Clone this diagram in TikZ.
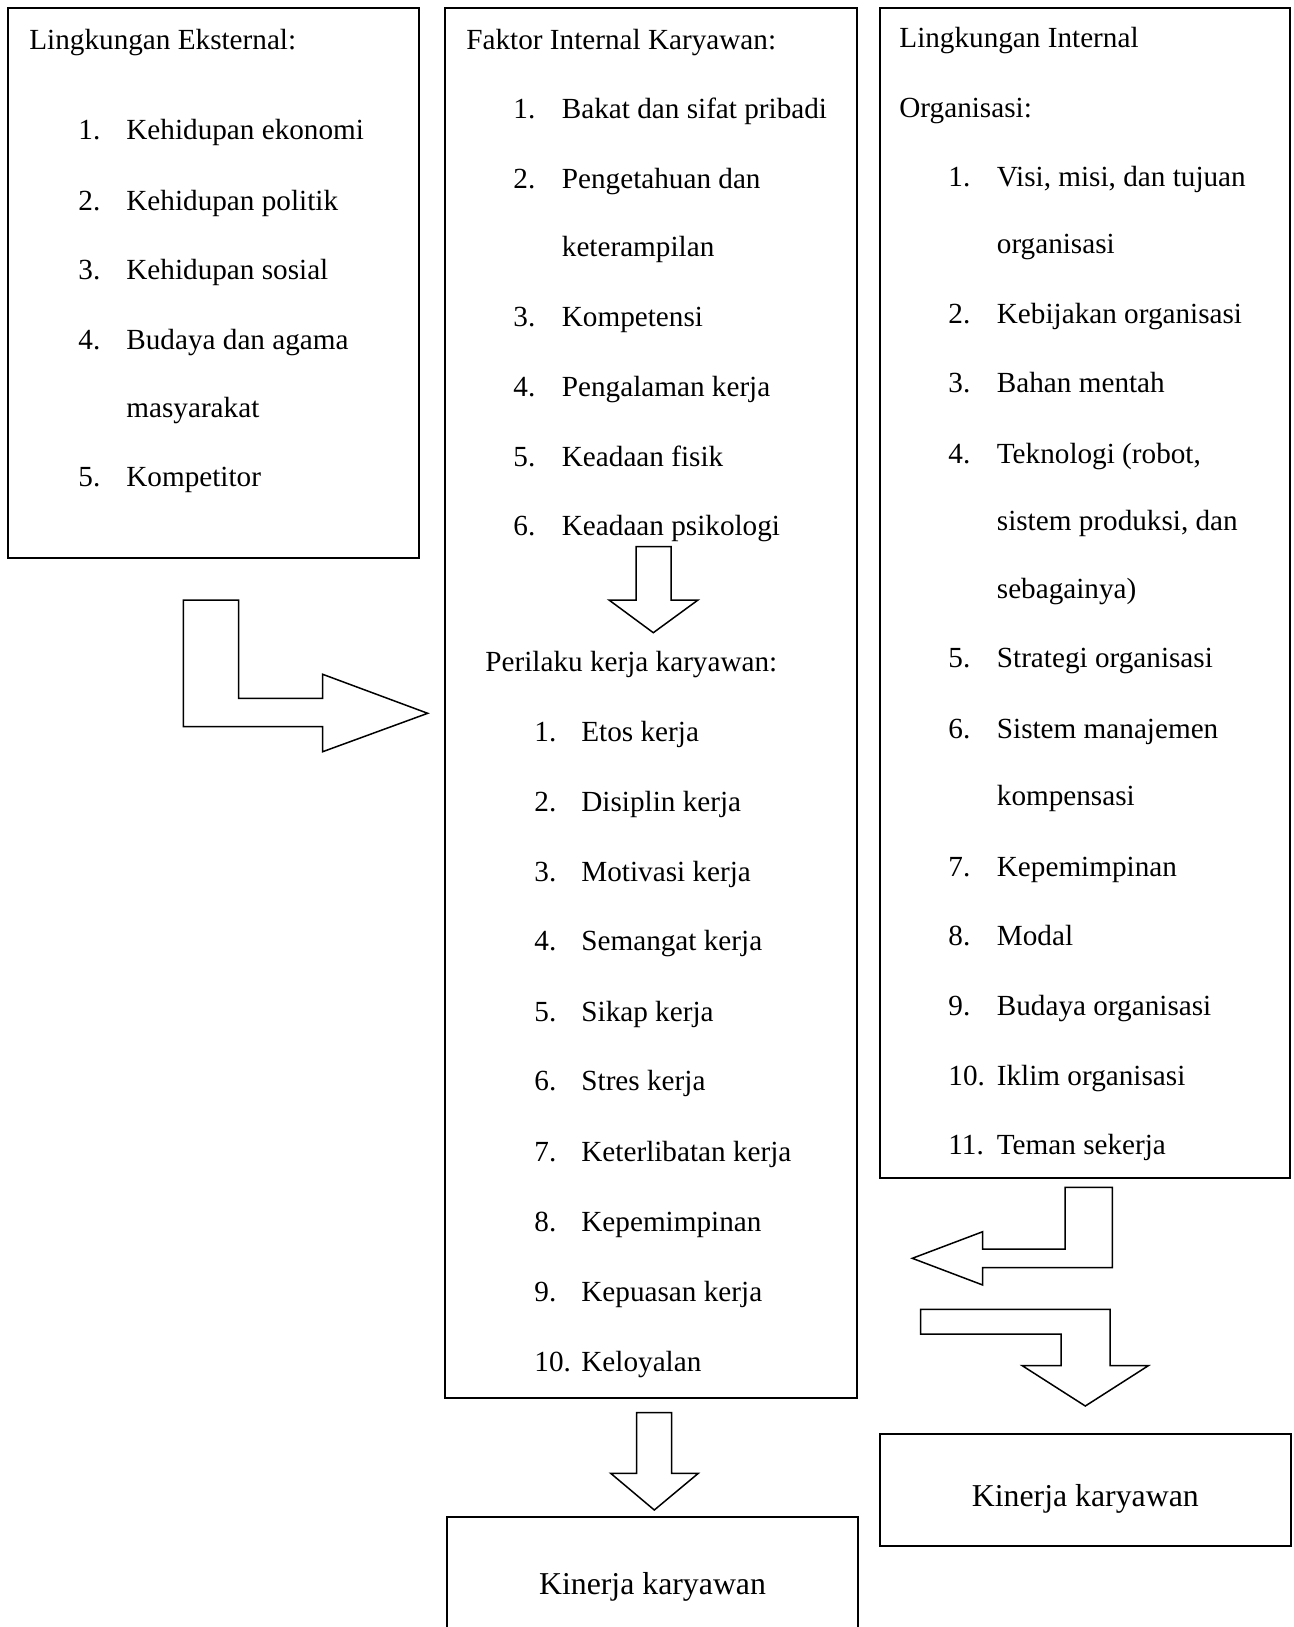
\documentclass[tikz,border=0pt]{standalone}
\usepackage{fontspec}
\setmainfont{Liberation Serif}
\usepackage{tikz}

\begin{document}
\begin{tikzpicture}[x=0.5pt,y=-0.5pt,
	box/.style={draw, line width=1pt, inner sep=0pt},
	txt/.style={anchor=base west, inner sep=0pt, font=\fontsize{14.6}{17}\selectfont},
	kintxt/.style={anchor=base, inner sep=0pt, font=\fontsize{15.9}{19}\selectfont},
	barrow/.style={draw, line width=0.75pt, line join=miter, fill=white}]
			\useasboundingbox (0,0) rectangle (1294,1627);
			\clip (0,0) rectangle (1294,1627);
			% Boxes
			\node[box, minimum width=205.4pt, minimum height=274.9pt] (ekst) at (213.7,283.2) {};
			\node[box, minimum width=206pt, minimum height=694.6pt] (kary) at (651,702.9) {};
			\node[box, minimum width=205pt, minimum height=584.9pt] (orgn) at (1085,593.2) {};
			\node[box, minimum width=205.5pt, minimum height=71.5pt] (kinA) at (652.5,1588.5) {};
			\node[box, minimum width=205.8pt, minimum height=56.3pt] (kinB) at (1085.3,1489.8) {};
			
			% Lingkungan eksternal
			\node[txt] (ekstH) at (29,50) {Lingkungan Eksternal:};
			\node[txt] (e1n) at (78,140) {1.};
			\node[txt] (e1) at (126,140) {Kehidupan ekonomi};
			\node[txt] (e2n) at (78,210) {2.};
			\node[txt] (e2) at (126,210) {Kehidupan politik};
			\node[txt] (e3n) at (78,279) {3.};
			\node[txt] (e3) at (126,279) {Kehidupan sosial};
			\node[txt] (e4n) at (78,349) {4.};
			\node[txt] (e4) at (126,349) {Budaya dan agama};
			\node[txt] (e4b) at (126,417) {masyarakat};
			\node[txt] (e5n) at (78,486) {5.};
			\node[txt] (e5) at (126,486) {Kompetitor};
			
			% Faktor internal karyawan
			\node[txt] (faktH) at (466,50) {Faktor Internal Karyawan:};
			\node[txt] (f1n) at (513,118.5) {1.};
			\node[txt] (f1) at (561.5,118.5) {Bakat dan sifat pribadi};
			\node[txt] (f2n) at (513,188) {2.};
			\node[txt] (f2) at (561.5,188) {Pengetahuan dan};
			\node[txt] (f2b) at (561.5,256.5) {keterampilan};
			\node[txt] (f3n) at (513,326) {3.};
			\node[txt] (f3) at (561.5,326) {Kompetensi};
			\node[txt] (f4n) at (513,396.5) {4.};
			\node[txt] (f4) at (561.5,396.5) {Pengalaman kerja};
			\node[txt] (f5n) at (513,466) {5.};
			\node[txt] (f5) at (561.5,466) {Keadaan fisik};
			\node[txt] (f6n) at (513,535.5) {6.};
			\node[txt] (f6) at (561.5,535.5) {Keadaan psikologi};
			
			% Perilaku kerja
			\node[txt] (periH) at (485,671.5) {Perilaku kerja karyawan:};
			\node[txt] (p1n) at (534,741) {1.};
			\node[txt] (p1) at (581,741) {Etos kerja};
			\node[txt] (p2n) at (534,811.5) {2.};
			\node[txt] (p2) at (581,811.5) {Disiplin kerja};
			\node[txt] (p3n) at (534,881) {3.};
			\node[txt] (p3) at (581,881) {Motivasi kerja};
			\node[txt] (p4n) at (534,950.5) {4.};
			\node[txt] (p4) at (581,950.5) {Semangat kerja};
			\node[txt] (p5n) at (534,1021) {5.};
			\node[txt] (p5) at (581,1021) {Sikap kerja};
			\node[txt] (p6n) at (534,1090.5) {6.};
			\node[txt] (p6) at (581,1090.5) {Stres kerja};
			\node[txt] (p7n) at (534,1161) {7.};
			\node[txt] (p7) at (581,1161) {Keterlibatan kerja};
			\node[txt] (p8n) at (534,1231) {8.};
			\node[txt] (p8) at (581,1231) {Kepemimpinan};
			\node[txt] (p9n) at (534,1301) {9.};
			\node[txt] (p9) at (581,1301) {Kepuasan kerja};
			\node[txt] (p10n) at (534,1371) {10.};
			\node[txt] (p10) at (581,1371) {Keloyalan};
			
			% Lingkungan internal organisasi
			\node[txt] (orgnH) at (899,48) {Lingkungan Internal};
			\node[txt] (orgnHb) at (899,117.5) {Organisasi:};
			\node[txt] (o1n) at (948,186) {1.};
			\node[txt] (o1) at (996.5,186) {Visi, misi, dan tujuan};
			\node[txt] (o1b) at (996.5,253.5) {organisasi};
			\node[txt] (o2n) at (948,323) {2.};
			\node[txt] (o2) at (996.5,323) {Kebijakan organisasi};
			\node[txt] (o3n) at (948,392.5) {3.};
			\node[txt] (o3) at (996.5,392.5) {Bahan mentah};
			\node[txt] (o4n) at (948,463) {4.};
			\node[txt] (o4) at (996.5,463) {Teknologi (robot,};
			\node[txt] (o4b) at (996.5,530.5) {sistem produksi, dan};
			\node[txt] (o4c) at (996.5,598) {sebagainya)};
			\node[txt] (o5n) at (948,667.5) {5.};
			\node[txt] (o5) at (996.5,667.5) {Strategi organisasi};
			\node[txt] (o6n) at (948,738) {6.};
			\node[txt] (o6) at (996.5,738) {Sistem manajemen};
			\node[txt] (o6b) at (996.5,805.5) {kompensasi};
			\node[txt] (o7n) at (948,876) {7.};
			\node[txt] (o7) at (996.5,876) {Kepemimpinan};
			\node[txt] (o8n) at (948,945.5) {8.};
			\node[txt] (o8) at (996.5,945.5) {Modal};
			\node[txt] (o9n) at (948,1015) {9.};
			\node[txt] (o9) at (996.5,1015) {Budaya organisasi};
			\node[txt] (o10n) at (948,1085.5) {10.};
			\node[txt] (o10) at (996.5,1085.5) {Iklim organisasi};
			\node[txt] (o11n) at (948,1154) {11.};
			\node[txt] (o11) at (996.5,1154) {Teman sekerja};
			
			% Kinerja
			\node[kintxt] (kinAt) at (652.5,1594) {Kinerja karyawan};
			\node[kintxt] (kinBt) at (1085.3,1506) {Kinerja karyawan};
			
			% Block arrows
			\draw[barrow] (183.3,600) -- (238.7,600) -- (238.7,698.3) -- (322.7,698.3) -- (322.7,674.3)
				-- (427.7,713.3) -- (322.7,751.7) -- (322.7,726.7) -- (183.3,726.7) -- cycle;
			\draw[barrow] (636,546.7) -- (671,546.7) -- (671,600) -- (698,600) -- (653.3,632.7)
				-- (609,600) -- (636,600) -- cycle;
			\draw[barrow] (636.7,1412.7) -- (671.7,1412.7) -- (671.7,1473.3) -- (698.3,1473.3) -- (654.3,1510)
				-- (610.7,1473.3) -- (636.7,1473.3) -- cycle;
			\draw[barrow] (1112.3,1187.3) -- (1065,1187.3) -- (1065,1249) -- (982.7,1249) -- (982.7,1231.7)
				-- (912.3,1258.3) -- (982.7,1285) -- (982.7,1267.7) -- (1112.3,1267.7) -- cycle;
			\draw[barrow] (920.7,1309.3) -- (1110,1309.3) -- (1110,1365.7) -- (1148.3,1365.7) -- (1085.3,1406)
				-- (1022.3,1365.7) -- (1061,1365.7) -- (1061,1334) -- (920.7,1334) -- cycle;
			
		\end{tikzpicture}
\end{document}
